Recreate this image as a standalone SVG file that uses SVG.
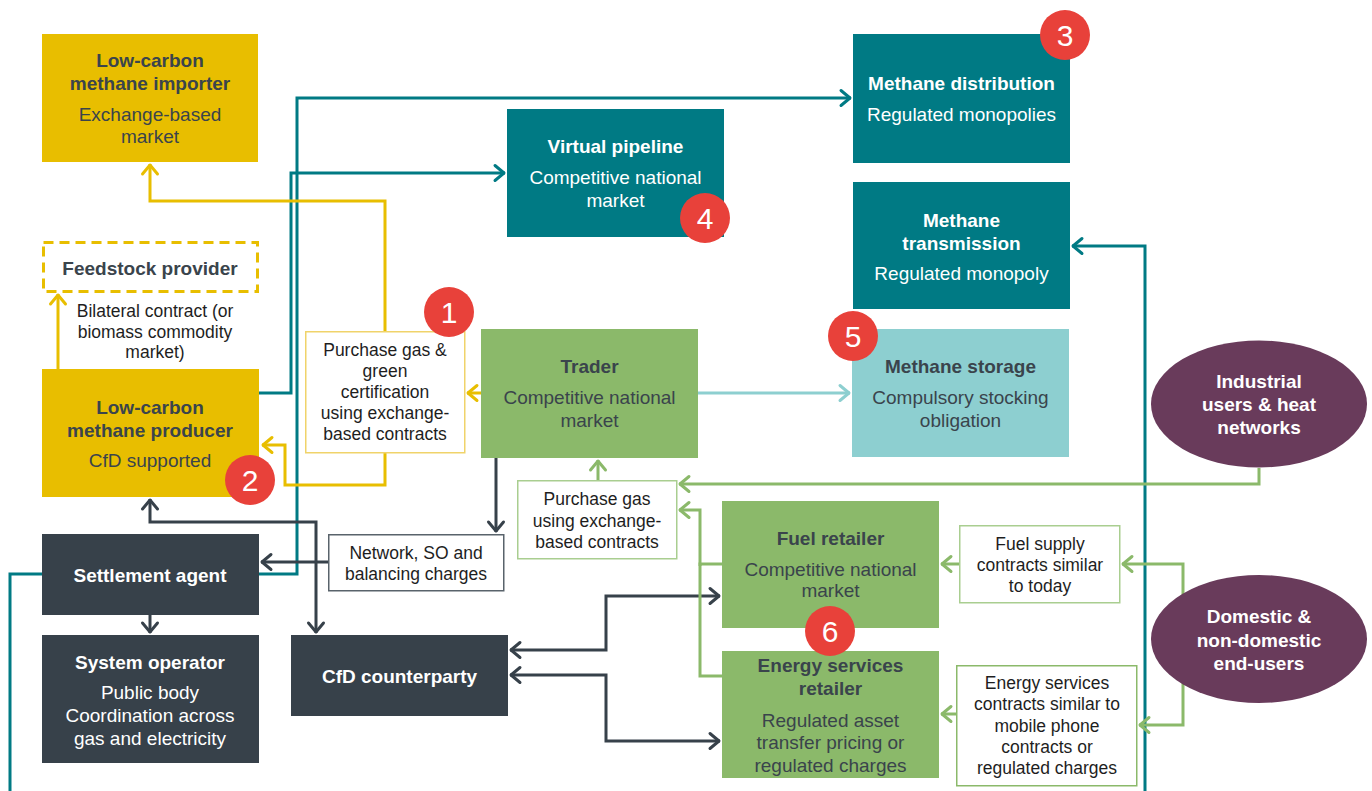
<svg xmlns="http://www.w3.org/2000/svg" width="1372" height="791" viewBox="0 0 1372 791">
  <style>
    text { font-family: "Liberation Sans", Arial, sans-serif; text-anchor: middle; }
    .tb { font-size: 19px; font-weight: bold; }
    .ts { font-size: 19px; }
    .lb { font-size: 17.5px; fill: #1e1e1e; }
    .dk { fill: #3A444C; }
    .wh { fill: #ffffff; }
    .yel { fill: #E8BE00; }
    .teal { fill: #007A84; }
    .grn { fill: #8BB96A; }
    .drk { fill: #37414A; }
    .lteal { fill: #8DCFD0; }
    .purp { fill: #693B5B; }
    .note { fill: #ffffff; stroke-width: 1.5; }
    .ln { fill: none; stroke-width: 3; stroke-linejoin: miter; }
    .c-yel { stroke: #E8BE00; }
    .c-teal { stroke: #007A84; }
    .c-grn { stroke: #8BB96A; }
    .c-drk { stroke: #37414A; }
    .c-lteal { stroke: #8DCFD0; }
    .badge circle { fill: #E8413A; }
    .badge text { font-size: 30px; fill: #ffffff; }
  </style>
  <defs>
    <marker id="ah-yel" viewBox="-14 -10 16 20" markerWidth="16" markerHeight="20" refX="0" refY="0" markerUnits="userSpaceOnUse" orient="auto-start-reverse">
      <path d="M-10,-7.5 L-1,0 L-10,7.5" fill="none" stroke="#E8BE00" stroke-width="3" stroke-linecap="round" stroke-linejoin="round"/>
    </marker>
    <marker id="ah-teal" viewBox="-14 -10 16 20" markerWidth="16" markerHeight="20" refX="0" refY="0" markerUnits="userSpaceOnUse" orient="auto-start-reverse">
      <path d="M-10,-7.5 L-1,0 L-10,7.5" fill="none" stroke="#007A84" stroke-width="3" stroke-linecap="round" stroke-linejoin="round"/>
    </marker>
    <marker id="ah-grn" viewBox="-14 -10 16 20" markerWidth="16" markerHeight="20" refX="0" refY="0" markerUnits="userSpaceOnUse" orient="auto-start-reverse">
      <path d="M-10,-7.5 L-1,0 L-10,7.5" fill="none" stroke="#8BB96A" stroke-width="3" stroke-linecap="round" stroke-linejoin="round"/>
    </marker>
    <marker id="ah-drk" viewBox="-14 -10 16 20" markerWidth="16" markerHeight="20" refX="0" refY="0" markerUnits="userSpaceOnUse" orient="auto-start-reverse">
      <path d="M-10,-7.5 L-1,0 L-10,7.5" fill="none" stroke="#37414A" stroke-width="3" stroke-linecap="round" stroke-linejoin="round"/>
    </marker>
    <marker id="ah-lteal" viewBox="-14 -10 16 20" markerWidth="16" markerHeight="20" refX="0" refY="0" markerUnits="userSpaceOnUse" orient="auto-start-reverse">
      <path d="M-10,-7.5 L-1,0 L-10,7.5" fill="none" stroke="#8DCFD0" stroke-width="3" stroke-linecap="round" stroke-linejoin="round"/>
    </marker>
  </defs>

  <rect width="1372" height="791" fill="#ffffff"/>

  <!-- connectors -->
  <g id="connectors">
    <!-- teal network links -->
    <path class="ln c-teal" d="M259,393 H291 V173 H505" marker-end="url(#ah-teal)"/>
    <path class="ln c-teal" d="M259,574 H297 V98 H851" marker-end="url(#ah-teal)"/>
    <path class="ln c-teal" d="M42,574 H10 V800"/>
    <path class="ln c-teal" d="M1145,800 V246 H1072" marker-end="url(#ah-teal)"/>
    <!-- yellow producer-side links -->
    <path class="ln c-drk" d="M328,562 H261" marker-end="url(#ah-drk)"/>
    <path class="ln c-yel" d="M385,331 V201 H150 V164" marker-end="url(#ah-yel)"/>
    <path class="ln c-yel" d="M385,453 V485 H285 V445 H262" marker-end="url(#ah-yel)"/>
    <path class="ln c-yel" d="M58,369 V294" marker-end="url(#ah-yel)"/>
    <path class="ln c-yel" d="M481,393 H467" marker-end="url(#ah-yel)"/>
    <!-- trader to storage -->
    <path class="ln c-lteal" d="M698,393 H850" marker-end="url(#ah-lteal)"/>
    <!-- dark settlement links -->
    <path class="ln c-drk" d="M496,458 V532" marker-end="url(#ah-drk)"/>
    <path class="ln c-drk" d="M150,499 V522 H316 V633" marker-start="url(#ah-drk)" marker-end="url(#ah-drk)"/>
    <path class="ln c-drk" d="M150,615 V633" marker-end="url(#ah-drk)"/>
    <path class="ln c-drk" d="M510,650 H606 V596 H720" marker-start="url(#ah-drk)" marker-end="url(#ah-drk)"/>
    <path class="ln c-drk" d="M510,675 H606 V741 H720" marker-start="url(#ah-drk)" marker-end="url(#ah-drk)"/>
    <!-- green retail links -->
    <path class="ln c-grn" d="M598,480 V460" marker-end="url(#ah-grn)"/>
    <path class="ln c-grn" d="M1259,468 V484 H679" marker-end="url(#ah-grn)"/>
    <path class="ln c-grn" d="M722,564 H700 V676 H722"/>
    <path class="ln c-grn" d="M700,566 V510 H679" marker-end="url(#ah-grn)"/>
    <path class="ln c-grn" d="M1183,598 V564 H1122" marker-end="url(#ah-grn)"/>
    <path class="ln c-grn" d="M959,564 H941" marker-end="url(#ah-grn)"/>
    <path class="ln c-grn" d="M1183,680 V725 H1139" marker-end="url(#ah-grn)"/>
    <path class="ln c-grn" d="M956,714 H941" marker-end="url(#ah-grn)"/>
  </g>

  <g id="importer">
    <rect class="yel" x="42" y="34" width="216" height="128"/>
    <text class="tb dk" x="150" y="67">Low-carbon</text>
    <text class="tb dk" x="150" y="90">methane importer</text>
    <text class="ts dk" x="150" y="121">Exchange-based</text>
    <text class="ts dk" x="150" y="143">market</text>
  </g>

  <g id="feedstock">
    <rect x="43.5" y="242.5" width="214" height="49" fill="#ffffff" stroke="#E8BE00" stroke-width="3" stroke-dasharray="10 6"/>
    <text class="tb dk" x="150" y="275">Feedstock provider</text>
  </g>

  <g id="bilateral-label">
    <text class="lb" x="155" y="317">Bilateral contract (or</text>
    <text class="lb" x="155" y="338">biomass commodity</text>
    <text class="lb" x="155" y="358">market)</text>
  </g>

  <g id="producer">
    <rect class="yel" x="42" y="369" width="217" height="128"/>
    <text class="tb dk" x="150" y="414">Low-carbon</text>
    <text class="tb dk" x="150" y="437">methane producer</text>
    <text class="ts dk" x="150" y="467">CfD supported</text>
  </g>

  <g id="settlement">
    <rect class="drk" x="42" y="534" width="217" height="81"/>
    <text class="tb wh" x="150" y="582">Settlement agent</text>
  </g>

  <g id="system-operator">
    <rect class="drk" x="42" y="635" width="217" height="128"/>
    <text class="tb wh" x="150" y="669">System operator</text>
    <text class="ts wh" x="150" y="699">Public body</text>
    <text class="ts wh" x="150" y="722">Coordination across</text>
    <text class="ts wh" x="150" y="745">gas and electricity</text>
  </g>

  <g id="cfd-counterparty">
    <rect class="drk" x="291" y="635" width="217" height="81"/>
    <text class="tb wh" x="399.5" y="683">CfD counterparty</text>
  </g>

  <g id="network-charges">
    <rect class="note" x="328.75" y="534.75" width="175" height="56" stroke="#59636B"/>
    <text class="lb" x="416" y="559">Network, SO and</text>
    <text class="lb" x="416" y="580">balancing charges</text>
  </g>

  <g id="green-certification">
    <rect class="note" x="305.75" y="331.75" width="159" height="121" stroke="#F0D36A"/>
    <text class="lb" x="385" y="356">Purchase gas &amp;</text>
    <text class="lb" x="385" y="377">green</text>
    <text class="lb" x="385" y="398">certification</text>
    <text class="lb" x="385" y="419">using exchange-</text>
    <text class="lb" x="385" y="440">based contracts</text>
  </g>

  <g id="trader">
    <rect class="grn" x="481" y="329" width="217" height="129"/>
    <text class="tb dk" x="589.5" y="373">Trader</text>
    <text class="ts dk" x="589.5" y="404">Competitive national</text>
    <text class="ts dk" x="589.5" y="427">market</text>
  </g>

  <g id="virtual-pipeline">
    <rect class="teal" x="507" y="109" width="217" height="128"/>
    <text class="tb wh" x="615.5" y="153">Virtual pipeline</text>
    <text class="ts wh" x="615.5" y="184">Competitive national</text>
    <text class="ts wh" x="615.5" y="207">market</text>
  </g>

  <g id="distribution">
    <rect class="teal" x="853" y="34" width="217" height="129"/>
    <text class="tb wh" x="961.5" y="90">Methane distribution</text>
    <text class="ts wh" x="961.5" y="121">Regulated monopolies</text>
  </g>

  <g id="transmission">
    <rect class="teal" x="853" y="182" width="217" height="127"/>
    <text class="tb wh" x="961.5" y="227">Methane</text>
    <text class="tb wh" x="961.5" y="250">transmission</text>
    <text class="ts wh" x="961.5" y="280">Regulated monopoly</text>
  </g>

  <g id="storage">
    <rect class="lteal" x="852" y="329" width="217" height="128"/>
    <text class="tb dk" x="960.5" y="373">Methane storage</text>
    <text class="ts dk" x="960.5" y="404">Compulsory stocking</text>
    <text class="ts dk" x="960.5" y="427">obligation</text>
  </g>

  <g id="industrial-users">
    <ellipse class="purp" cx="1259" cy="404" rx="108" ry="63.5"/>
    <text class="tb wh" x="1259" y="388">Industrial</text>
    <text class="tb wh" x="1259" y="411">users &amp; heat</text>
    <text class="tb wh" x="1259" y="434">networks</text>
  </g>

  <g id="exchange-purchase">
    <rect class="note" x="517.75" y="480.75" width="159" height="78" stroke="#A9CE90"/>
    <text class="lb" x="597" y="505">Purchase gas</text>
    <text class="lb" x="597" y="527">using exchange-</text>
    <text class="lb" x="597" y="548">based contracts</text>
  </g>

  <g id="fuel-retailer">
    <rect class="grn" x="722" y="501" width="217" height="127"/>
    <text class="tb dk" x="830.5" y="545">Fuel retailer</text>
    <text class="ts dk" x="830.5" y="576">Competitive national</text>
    <text class="ts dk" x="830.5" y="597">market</text>
  </g>

  <g id="energy-services-retailer">
    <rect class="grn" x="722" y="651" width="217" height="127"/>
    <text class="tb dk" x="830.5" y="672">Energy services</text>
    <text class="tb dk" x="830.5" y="695">retailer</text>
    <text class="ts dk" x="830.5" y="727">Regulated asset</text>
    <text class="ts dk" x="830.5" y="749">transfer pricing or</text>
    <text class="ts dk" x="830.5" y="772">regulated charges</text>
  </g>

  <g id="fuel-supply-contracts">
    <rect class="note" x="959.75" y="525.75" width="160" height="77" stroke="#A9CE90"/>
    <text class="lb" x="1040" y="550">Fuel supply</text>
    <text class="lb" x="1040" y="571">contracts similar</text>
    <text class="lb" x="1040" y="592">to today</text>
  </g>

  <g id="energy-services-contracts">
    <rect class="note" x="956.75" y="665.75" width="180" height="120" stroke="#8BB96A"/>
    <text class="lb" x="1047" y="689">Energy services</text>
    <text class="lb" x="1047" y="710">contracts similar to</text>
    <text class="lb" x="1047" y="732">mobile phone</text>
    <text class="lb" x="1047" y="753">contracts or</text>
    <text class="lb" x="1047" y="774">regulated charges</text>
  </g>

  <g id="end-users">
    <ellipse class="purp" cx="1259" cy="639" rx="108" ry="64"/>
    <text class="tb wh" x="1259" y="623">Domestic &amp;</text>
    <text class="tb wh" x="1259" y="647">non-domestic</text>
    <text class="tb wh" x="1259" y="670">end-users</text>
  </g>

  <!-- numbered badges -->
  <g id="badge-1" class="badge"><circle cx="449" cy="312" r="25"/><text x="449" y="323">1</text></g>
  <g id="badge-2" class="badge"><circle cx="250" cy="480" r="25"/><text x="250" y="491">2</text></g>
  <g id="badge-3" class="badge"><circle cx="1065" cy="35" r="25"/><text x="1065" y="46">3</text></g>
  <g id="badge-4" class="badge"><circle cx="705" cy="218" r="25"/><text x="705" y="229">4</text></g>
  <g id="badge-5" class="badge"><circle cx="853" cy="336" r="25"/><text x="853" y="347">5</text></g>
  <g id="badge-6" class="badge"><circle cx="830" cy="631" r="25"/><text x="830" y="642">6</text></g>
</svg>
